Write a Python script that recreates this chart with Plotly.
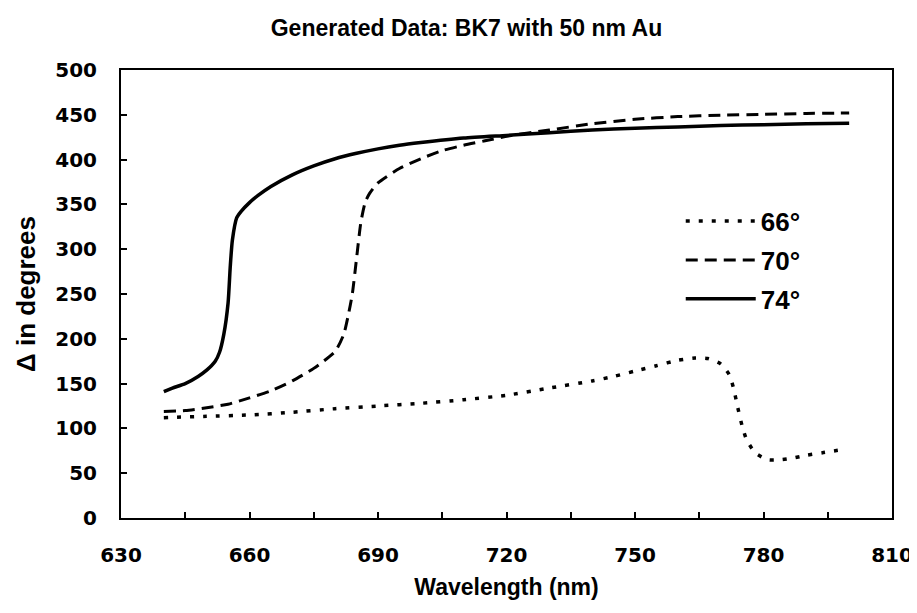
import plotly.graph_objects as go

# 66 degrees (dotted)
wl_66 = [640, 650, 660, 670, 680, 690, 700, 710, 720, 730, 740, 745, 750, 755, 760, 764, 767,
         770, 772, 773, 774, 775, 776, 778, 781, 784, 787, 790, 794, 798]
d_66 = [112, 113.5, 115, 118, 122, 125, 128, 132, 137, 145, 153, 158, 164, 170, 176, 178.5, 178,
        172, 160, 145, 123, 103, 88, 73, 65, 65, 67, 70, 73, 76]

# 70 degrees (dashed)
wl_70 = [640, 645, 650, 655, 660, 665, 670, 675, 680, 682, 683, 684, 685, 686, 687, 688, 690,
         695, 700, 705, 710, 715, 720, 730, 740, 750, 760, 770, 780, 790, 800]
d_70 = [119, 120, 123, 127, 134, 142, 153, 167, 186, 205, 225, 250, 290, 330, 352, 362, 374,
        390, 401, 410, 416, 421, 426, 433, 440, 445, 448, 449.5, 450.5, 451.5, 452]

# 74 degrees (solid)
wl_74 = [640, 642, 645, 648, 650, 652, 653, 654, 655, 655.5, 656, 657, 658, 660, 662, 665,
         670, 675, 680, 685, 690, 695, 700, 710, 720, 730, 740, 750, 760, 770, 780, 790, 800]
d_74 = [141, 145, 150, 158, 165, 175, 185, 205, 240, 280, 310, 335, 342, 352, 360, 370,
        383, 393, 401, 407, 412, 416, 419, 424, 427, 430, 433, 435, 436.5, 438, 439, 440, 440.5]

x_ticks = [630, 660, 690, 720, 750, 780, 810]
y_ticks = [0, 50, 100, 150, 200, 250, 300, 350, 400, 450, 500]

TICKFONT = "DejaVu Sans"
ARIAL = "Liberation Sans"

fig = go.Figure()
fig.add_trace(go.Scatter(x=wl_66, y=d_66, mode="lines", name="66°", legendgroup="a",
                         line=dict(color="black", width=3.5, dash="4px,9px", shape="spline", smoothing=0.6)))
fig.add_trace(go.Scatter(x=wl_70, y=d_70, mode="lines", name="70°", legendgroup="b",
                         line=dict(color="black", width=3, dash="12px,7px", shape="spline", smoothing=0.6)))
fig.add_trace(go.Scatter(x=wl_74, y=d_74, mode="lines", name="74°", legendgroup="c",
                         line=dict(color="black", width=3.5, shape="spline", smoothing=0.6)))

fig.update_layout(
    width=917, height=613,
    margin=dict(l=113, r=21, t=62, b=103),
    paper_bgcolor="white", plot_bgcolor="white",
    title=dict(text="Generated Data: BK7 with 50 nm Au", x=0.5, xanchor="center",
               y=1 - 20 / 613, yanchor="middle",
               font=dict(family=ARIAL, size=23, color="black", weight="bold")),
    font=dict(family=ARIAL, color="black"),
    legend=dict(x=0.726, y=0.715, xanchor="left", yanchor="top",
                bgcolor="rgba(0,0,0,0)", tracegroupgap=2, itemwidth=70,
                font=dict(family=ARIAL, size=26, color="black", weight="bold")),
)
fig.update_xaxes(
    range=[630, 810], tickvals=x_ticks, ticktext=[str(v) for v in x_ticks],
    ticks="inside", ticklen=6, tickwidth=2, tickcolor="black", ticklabelstandoff=18,
    minor=dict(dtick=15, tick0=630, ticks="inside", ticklen=6, tickwidth=2, tickcolor="black"),
    showline=True, linecolor="black", linewidth=2, mirror=True, showgrid=False, zeroline=False,
    tickfont=dict(family=TICKFONT, size=20, color="black", weight="bold"),
    title=dict(text="Wavelength (nm)", standoff=13,
               font=dict(family=ARIAL, size=23, color="black", weight="bold")),
)
fig.update_yaxes(
    range=[0, 500], tickvals=y_ticks, ticktext=[str(v) for v in y_ticks],
    ticks="inside", ticklen=6, tickwidth=2, tickcolor="black", ticklabelstandoff=18,
    showline=True, linecolor="black", linewidth=2, mirror=True, showgrid=False, zeroline=False,
    tickfont=dict(family=TICKFONT, size=20, color="black", weight="bold"),
    title=dict(text="Δ in degrees", standoff=12,
               font=dict(family=ARIAL, size=26, color="black", weight="bold")),
)

fig.write_html("out.html")
